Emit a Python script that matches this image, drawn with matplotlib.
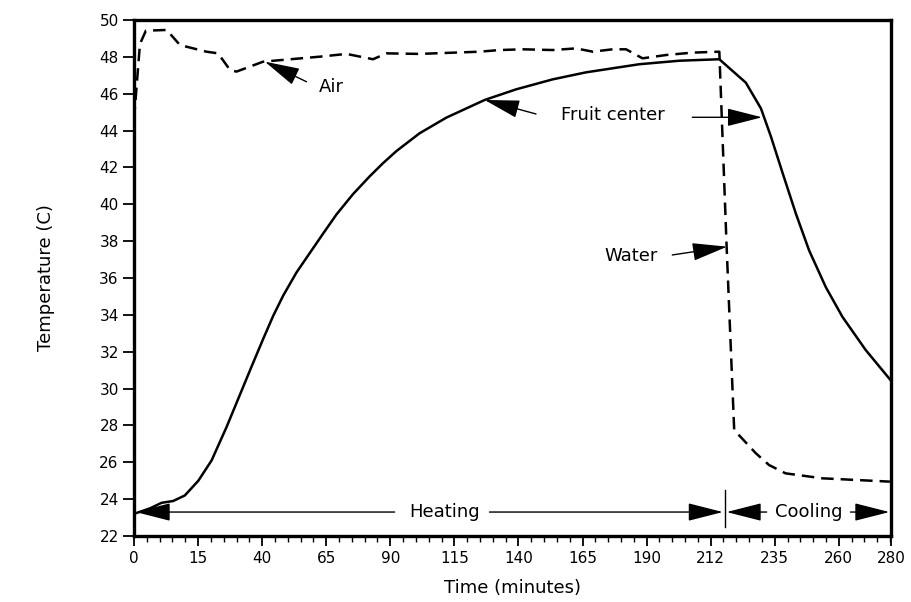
import matplotlib
matplotlib.use("Agg")
import matplotlib.pyplot as plt
from matplotlib.ticker import MultipleLocator

# ---- data (minutes, deg C) ----
fruit_time = [0, 5.9, 10.2, 14.5, 18.8, 23.8, 28.7, 34.2, 43.5, 47.8, 51.5,
              55.2, 60.1, 65.0, 69.9, 74.9, 81.0, 87.2, 92.1, 97.0, 105.6, 115.5,
              129.7, 141.4, 154.9, 167.2, 186.9, 201.7, 216.5, 226.3, 231.9, 235.6,
              239.9, 244.8, 249.7, 255.9, 262.0, 270.6, 279.6]
fruit_temp = [23.2, 23.5, 23.8, 23.9, 24.2, 25.0, 26.1, 27.9, 31.2, 32.7,
              33.95, 35.05, 36.3, 37.35, 38.4, 39.45, 40.55, 41.52, 42.23, 42.88, 43.85,
              44.7, 45.66, 46.24, 46.78, 47.16, 47.6, 47.79, 47.87, 46.6, 45.2, 43.67,
              41.7, 39.5, 37.5, 35.5, 33.9, 32.1, 30.5]

air_time = [0, 2.2, 4.4, 12.1, 17.0, 26.8, 31.1, 35.5, 37.9, 47.8, 68.7, 78.6, 88.4,
            93.4, 105.6, 127.8, 135.2, 143.8, 154.9, 163.5, 169.7, 177.0, 182.0,
            188.1, 196.8, 206.6, 216.5]
air_temp = [44.6, 48.7, 49.42, 49.46, 48.64, 48.28, 48.19, 47.29, 47.2, 47.74, 48.01,
            48.16, 47.87, 48.19, 48.16, 48.28, 48.37, 48.41, 48.37, 48.46, 48.28,
            48.41, 48.41, 47.92, 48.1, 48.23, 48.28]

water_time = [219.2, 222.0, 230.0, 234.9, 241.0, 254.6, 279.6]
water_temp = [37.7, 27.75, 26.49, 25.85, 25.4, 25.13, 24.95]

x_tick_pos = [0, 23.7, 47.4, 71.1, 94.8, 118.5, 142.2, 165.9, 189.6, 213.3, 237.0, 260.7, 280]
x_tick_labels = ["0", "15", "40", "65", "90", "115", "140", "165", "190", "212", "235", "260", "280"]
y_ticks = list(range(22, 51, 2))

plt.rcParams['font.family'] = ['DejaVu Sans']

fig = plt.figure(figsize=(9.11, 6.02), dpi=100)
ax = fig.add_axes([134/911, 1-536/602, (891-134)/911, (536-20)/602])

ax.plot(fruit_time, fruit_temp, color='black', lw=1.8, solid_joinstyle='round')
ax.plot(air_time + water_time, air_temp + water_temp, color='black', lw=1.8,
        dashes=(5, 2.8))

ax.set_xlim(0, 280)
ax.set_ylim(22, 50)
ax.set_xticks(x_tick_pos)
ax.set_xticklabels(x_tick_labels)
ax.xaxis.set_minor_locator(MultipleLocator(4.74))
ax.set_yticks(y_ticks)

for s in ax.spines.values():
    s.set_linewidth(2.4)

ax.tick_params(axis='y', direction='out', length=8, width=1.3, labelsize=11, pad=3)
ax.tick_params(axis='x', which='major', direction='out', length=7, width=1.3,
               labelsize=11, pad=4)
ax.tick_params(axis='x', which='minor', direction='out', length=4, width=1.0)

ax.set_xlabel("Time (minutes)", fontsize=13, labelpad=9)
ax.set_ylabel("Temperature (C)", fontsize=13, labelpad=32)

def arrow(tip, tail, hl=1.1, hw=0.28):
    ax.annotate('', xy=tip, xytext=tail,
                arrowprops=dict(arrowstyle=f'-|>,head_length={hl},head_width={hw}',
                                color='black', lw=1.0, shrinkA=0, shrinkB=0,
                                mutation_scale=20))

fs = 13
# Air
ax.text(68.3, 46.36, "Air", fontsize=fs, va='center', ha='left')
arrow((48.4, 47.74), (63.8, 46.65))
# Fruit center
ax.text(177.3, 44.85, "Fruit center", fontsize=fs, va='center', ha='center')
arrow((129.7, 45.66), (148.7, 44.9))
arrow((232.3, 44.72), (206.5, 44.72))
# Water
ax.text(184.0, 37.2, "Water", fontsize=fs, va='center', ha='center')
arrow((219.4, 37.7), (199.1, 37.25))
# Heating
yh = 23.3
ax.text(114.9, yh, "Heating", fontsize=fs, va='center', ha='center')
arrow((0.6, yh), (96.4, yh))
arrow((217.8, yh), (131.5, yh))
# divider
ax.plot([218.5, 218.5], [22.5, 24.5], color='black', lw=1.0)
# Cooling
ax.text(249.7, yh, "Cooling", fontsize=fs, va='center', ha='center')
arrow((219.2, yh), (234.0, yh))
arrow((279.4, yh), (265.0, yh))

fig.savefig("out.png", dpi=100)
